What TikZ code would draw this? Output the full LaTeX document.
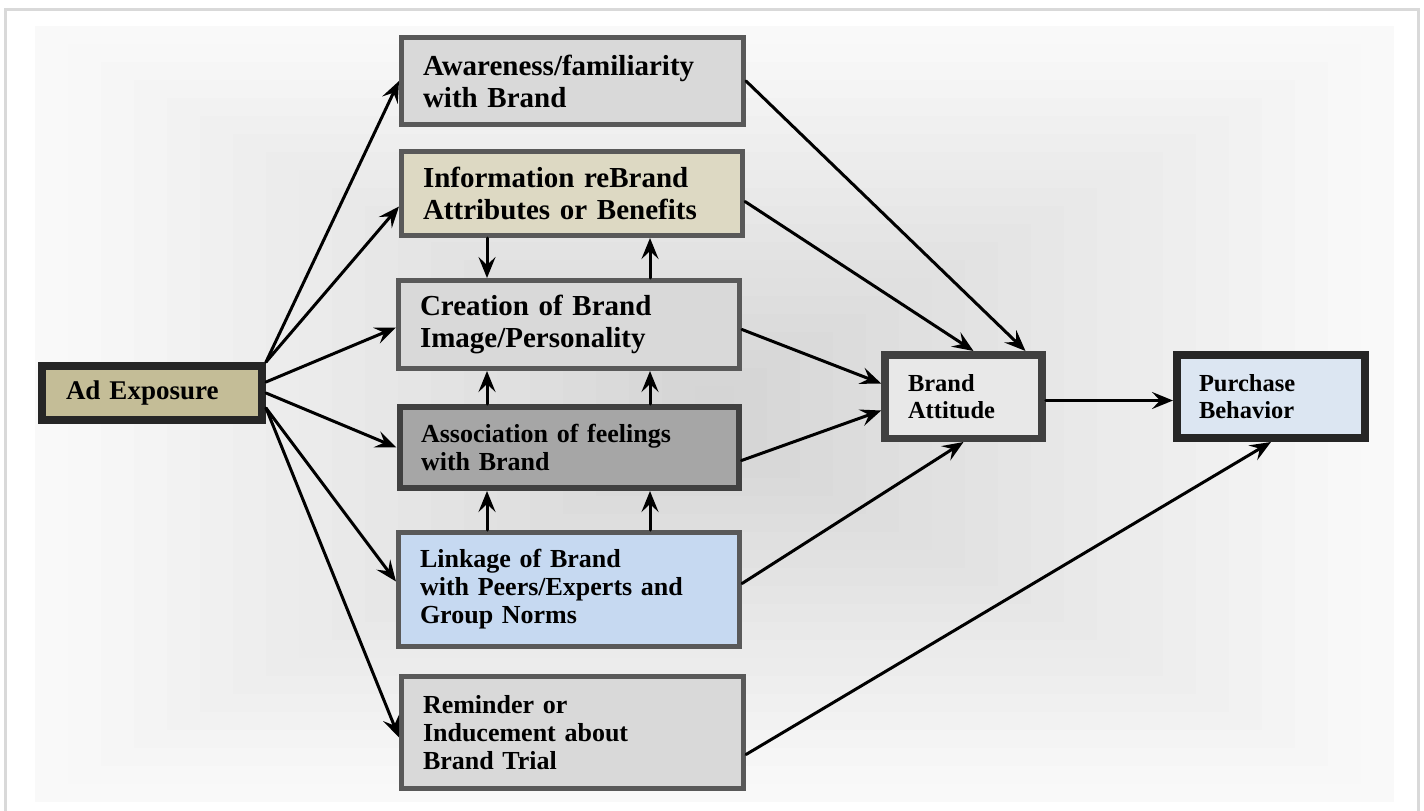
\documentclass[tikz,border=0pt]{standalone}
\usepackage{fontspec}
\setmainfont{Liberation Serif}
\usetikzlibrary{arrows.meta}
\definecolor{framegray}{HTML}{D9D9D9}
\definecolor{midline}{HTML}{595959}
\definecolor{darkline}{HTML}{404040}
\definecolor{blackline}{HTML}{262626}
\definecolor{grayfill}{HTML}{D9D9D9}
\definecolor{tanfill}{HTML}{DDD9C3}
\definecolor{darkfill}{HTML}{A6A6A6}
\definecolor{bluefill}{HTML}{C6D9F1}
\definecolor{adfill}{HTML}{C4BD97}
\definecolor{attfill}{HTML}{E8E8E8}
\definecolor{purchfill}{HTML}{DCE6F2}
\newcommand{\fontL}{\fontsize{29}{32}\selectfont\bfseries}
\newcommand{\fontM}{\fontsize{26}{28}\selectfont\bfseries}
\newcommand{\fontS}{\fontsize{24.5}{27}\selectfont\bfseries}
\newcommand{\fontAd}{\fontsize{27}{30}\selectfont\bfseries}

\begin{document}
\begin{tikzpicture}[>={Stealth[length=21pt,width=17pt,inset=8pt]},x=1pt,y=-1pt,
    box/.style={rectangle, draw=midline, line width=5pt, line join=miter, align=left, inner xsep=21.5pt, inner ysep=0pt},
    conn/.style={->, black, line width=3pt, line cap=round}]
    \useasboundingbox (0,0) rectangle (1424,811);

    % Background
    \begin{scope}
        \clip (0,0) rectangle (1424,811);
        \foreach \i in {1,...,21} {
                \pgfmathsetmacro{\g}{98.5-0.72*\i}
                \fill[white!\g!black] (2+33*\i,8+18*\i) rectangle (1427-33*\i,820-18*\i);
            }
        \draw[framegray, line width=3pt] (5,9) rectangle (1418,830);
    \end{scope}

    % Nodes
    \draw(152,393) node[box, draw=blackline, line width=8pt, fill=adfill, inner xsep=24pt, text width=172pt, minimum height=54pt, font=\fontAd] (ad) {Ad Exposure};
    \draw(572.5,81) node[box, fill=grayfill, text width=299pt, minimum height=87pt, font=\fontL] (aware) {Awareness/familiarity\\with Brand};
    \draw(572,193.5) node[box, fill=tanfill, text width=298pt, minimum height=84pt, font=\fontL] (info) {Information reBrand\\Attributes or Benefits};
    \draw(569,324.5) node[box, fill=grayfill, text width=298pt, minimum height=88pt, font=\fontL] (create) {Creation of Brand\\Image/Personality};
    \draw(569,447.5) node[box, draw=darkline, line width=6pt, fill=darkfill, text width=296pt, minimum height=81pt, font=\fontM] (assoc) {Association of feelings\\with Brand};
    \draw(569,589.5) node[box, fill=bluefill, text width=298pt, minimum height=114pt, font=\fontM] (link) {Linkage of Brand\\with Peers/Experts and\\Group Norms};
    \draw(572.5,732.5) node[box, fill=grayfill, text width=299pt, minimum height=112pt, font=\fontM] (remind) {Reminder or\\Inducement about\\Brand Trial};
    \draw(963.5,396.5) node[box, draw=darkline, line width=7.5pt, fill=attfill, inner xsep=23pt, text width=111pt, minimum height=83.5pt, font=\fontS] (att) {Brand\\Attitude};
    \draw(1271,396.5) node[box, draw=blackline, line width=8pt, fill=purchfill, inner xsep=22pt, text width=144pt, minimum height=83pt, font=\fontS] (purch) {Purchase\\Behavior};

    % Edges from Ad Exposure
    \draw[conn] (ad.north east) -- (aware.west);
    \draw[conn] (ad.north east) -- ([yshift=-13pt]info.west);
    \draw[conn] ([yshift=11pt]ad.east) -- ([yshift=-3pt]create.west);
    \draw[conn] (ad.east) -- (assoc.west);
    \draw[conn] ([yshift=-15pt]ad.east) -- ([yshift=8pt]link.west);
    \draw[conn] ([yshift=-15pt]ad.east) -- ([yshift=-5pt]remind.west);

    % Edges between the middle boxes
    \coordinate (colA) at (487,0);
    \coordinate (colB) at (650,0);
    \draw[conn] (info.south -| colA) -- (create.north -| colA);
    \draw[conn] (create.north -| colB) -- (info.south -| colB);
    \draw[conn] (assoc.north -| colA) -- (create.south -| colA);
    \draw[conn] (assoc.north -| colB) -- (create.south -| colB);
    \draw[conn] (link.north -| colA) -- (assoc.south -| colA);
    \draw[conn] (link.north -| colB) -- (assoc.south -| colB);

    % Edges to Brand Attitude and Purchase Behavior
    \draw[conn] (aware.east) -- ([xshift=62pt]att.north);
    \draw[conn] ([yshift=-8pt]info.east) -- ([xshift=10pt]att.north);
    \draw[conn] ([yshift=-5pt]create.east) -- ([yshift=13pt]att.west);
    \draw[conn] ([yshift=-13pt]assoc.east) -- ([yshift=-14pt]att.west);
    \draw[conn] ([yshift=6pt]link.east) -- (att.south);
    \draw[conn] ([yshift=-4pt]att.east) -- ([yshift=-4pt]purch.west);
    \draw[conn] ([yshift=-22pt]remind.east) -- (purch.south);
\end{tikzpicture}
\end{document}
